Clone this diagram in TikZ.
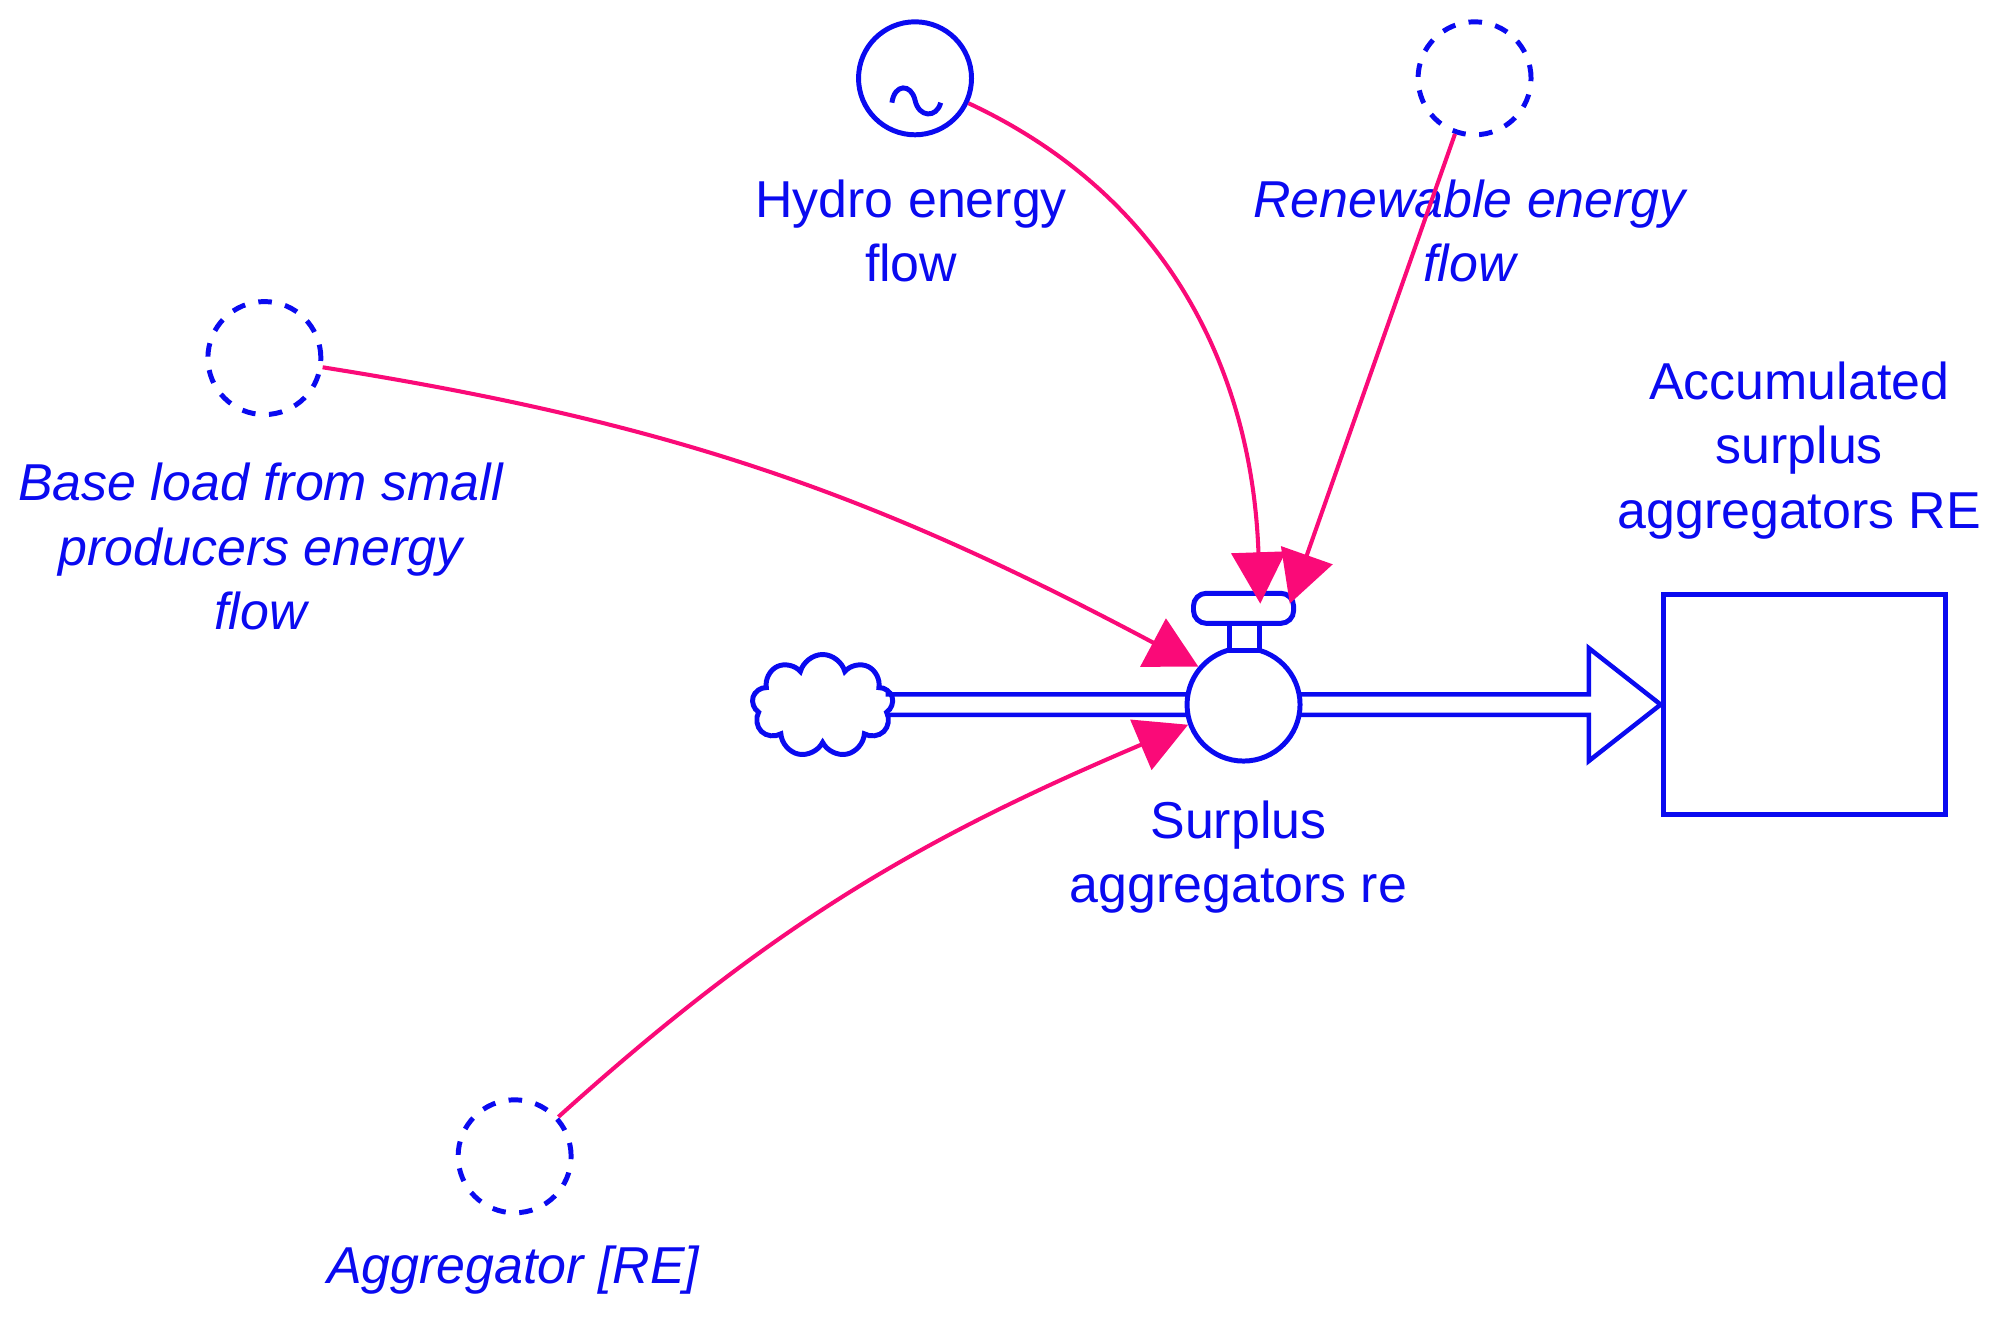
\documentclass[tikz,border=0pt]{standalone}
\usepackage{fontspec}
\setmainfont{Liberation Sans}
\usetikzlibrary{arrows.meta,shapes.symbols}
\definecolor{sdblue}{RGB}{10,10,240}
\definecolor{sdpink}{RGB}{250,10,120}
\tikzset{
  aux/.style = {circle, draw = sdblue, line width = 1.1pt, dashed, minimum size = 0.88cm},
  lbl/.style = {text = sdblue, align = center, font = \fontsize{11.5}{14.3}\selectfont},
  link/.style = {draw = sdpink, line width = 0.9pt, -{Triangle[length = 0.4cm, width = 0.42cm]}},
  pipe/.style = {draw = sdblue, line width = 1pt}
}
\begin{document}
\begin{tikzpicture}[x = 0.01cm, y = -0.01cm]
		\useasboundingbox (0,0) rectangle (1560,1029);
		% auxiliaries
		\node[aux, solid] (hydro) at (713,61) {};
		\node[aux] (renew) at (1149,61) {};
		\node[aux] (base) at (206,279) {};
		\node[aux] (aggr) at (401,901) {};
		\draw[sdblue, line width = 1.1pt] (695,80) .. controls (697,65) and (710,65) .. (713,78) .. controls (716,92) and (730,92) .. (733,80);
		% flow and stock
		\node[cloud, draw = sdblue, line width = 1.1pt, cloud puffs = 9, minimum width = 1.1cm, minimum height = 0.8cm] (src) at (641,550) {};
		\node[draw = sdblue, line width = 1.1pt, minimum width = 2.2cm, minimum height = 1.71cm] (stock) at (1406,549) {};
		\coordinate (tipb) at (1238,549);
		\draw[pipe] (690,541) -- (1238,541) -- (1238,505) -- (stock.west) -- (1238,593) -- (1238,557) -- (690,557);
		\node[circle, draw = sdblue, fill = white, line width = 1.1pt, minimum size = 0.88cm] (valve) at (969,549) {};
		\node[draw = sdblue, fill = white, line width = 1.1pt, minimum width = 0.2cm, minimum height = 0.19cm] (stem) at (970,495) {};
		\node[draw = sdblue, fill = white, line width = 1.1pt, rounded corners = 0.1cm, minimum width = 0.78cm, minimum height = 0.22cm] (handle) at (969,474) {};
		% labels
		\node[lbl] at (710,180) {Hydro energy\\flow};
		\node[lbl, font = \fontsize{11.5}{14.3}\selectfont\itshape] at (1145,180) {Renewable energy\\flow};
		\node[lbl, font = \fontsize{11.5}{14.3}\selectfont\itshape] at (203,426) {Base load from small\\producers energy\\flow};
		\node[lbl, font = \fontsize{11.5}{14.3}\selectfont\itshape] at (400,990) {Aggregator [RE]};
		\node[lbl] at (965,668) {Surplus\\aggregators re};
		\node[lbl] at (1402,351) {Accumulated\\surplus\\aggregators RE};
		% links
		\draw[link] (hydro) to[out = -25, in = 92] ([xshift = 0.13cm, yshift = -0.1cm]handle.north);
		\draw[link] (renew) -- ([xshift = 0.36cm, yshift = -0.1cm]handle.north);
		\draw[link] (base) to[out = -9, in = 152] (valve.140);
		\draw[link] (aggr) to[out = 42, in = 203] (valve.200);
\end{tikzpicture}
\end{document}
